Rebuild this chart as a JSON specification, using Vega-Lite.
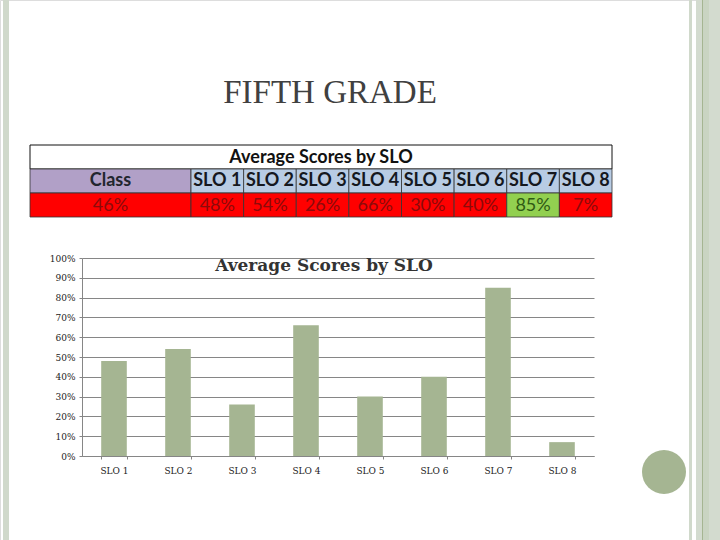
{
  "$schema": "https://vega.github.io/schema/vega-lite/v6.json",
  "width": 720, "height": 540,
  "autosize": {"type": "none"},
  "padding": 0,
  "background": "white",
  "title": {"text": "FIFTH GRADE", "anchor": "middle", "frame": "group", "orient": "top", "dx": -30, "offset": -110, "font": "Liberation Serif", "fontSize": 33, "fontWeight": "normal", "color": "#404040"},
  "datasets": {
    "slo": [
      {"slo": "SLO 1", "score": 0.48},
      {"slo": "SLO 2", "score": 0.54},
      {"slo": "SLO 3", "score": 0.26},
      {"slo": "SLO 4", "score": 0.66},
      {"slo": "SLO 5", "score": 0.30},
      {"slo": "SLO 6", "score": 0.40},
      {"slo": "SLO 7", "score": 0.85},
      {"slo": "SLO 8", "score": 0.07}
    ],
    "class": [{"group": "Class", "score": 0.46}],
    "heading": [{"heading": "Average Scores by SLO"}]
  },
  "resolve": {"scale": {"x": "independent", "y": "independent", "color": "independent"}, "axis": {"x": "independent", "y": "independent"}},
  "layer": [
    {
      "data": {"values": [{"strip": "left"}]},
      "mark": {"type": "rect", "color": "#D0D9CB"},
      "encoding": {
        "x": {"field": "strip", "type": "nominal", "axis": null, "scale": {"type": "band", "range": [3, 9], "padding": 0}},
        "y": {"field": "strip", "type": "nominal", "axis": null, "scale": {"type": "band", "range": [0, 540], "padding": 0}}
      }
    },
    {
      "data": {"values": [{"strip": "right inner"}]},
      "mark": {"type": "rect", "color": "#D0D9CB"},
      "encoding": {
        "x": {"field": "strip", "type": "nominal", "axis": null, "scale": {"type": "band", "range": [689, 692], "padding": 0}},
        "y": {"field": "strip", "type": "nominal", "axis": null, "scale": {"type": "band", "range": [0, 540], "padding": 0}}
      }
    },
    {
      "data": {"values": [{"strip": "right outer"}]},
      "mark": {"type": "rect", "color": "#D3DBCF"},
      "encoding": {
        "x": {"field": "strip", "type": "nominal", "axis": null, "scale": {"type": "band", "range": [696, 720], "padding": 0}},
        "y": {"field": "strip", "type": "nominal", "axis": null, "scale": {"type": "band", "range": [0, 540], "padding": 0}}
      }
    },
    {
      "data": {"values": [{"strip": "right shade"}]},
      "mark": {"type": "rect", "color": "#C9D4C2"},
      "encoding": {
        "x": {"field": "strip", "type": "nominal", "axis": null, "scale": {"type": "band", "range": [703, 709], "padding": 0}},
        "y": {"field": "strip", "type": "nominal", "axis": null, "scale": {"type": "band", "range": [0, 540], "padding": 0}}
      }
    },
    {
      "data": {"values": [{"strip": "right line"}]},
      "mark": {"type": "rect", "color": "#A5B592"},
      "encoding": {
        "x": {"field": "strip", "type": "nominal", "axis": null, "scale": {"type": "band", "range": [702, 703], "padding": 0}},
        "y": {"field": "strip", "type": "nominal", "axis": null, "scale": {"type": "band", "range": [0, 540], "padding": 0}}
      }
    },
    {
      "data": {"values": [{"dot": "dot"}]},
      "mark": {"type": "point", "filled": true, "opacity": 1, "color": "#A5B592", "size": 1936},
      "encoding": {
        "x": {"field": "dot", "type": "nominal", "axis": null, "scale": {"type": "band", "range": [642, 686], "padding": 0}},
        "y": {"field": "dot", "type": "nominal", "axis": null, "scale": {"type": "band", "range": [450, 494], "padding": 0}}
      }
    },
    {
      "data": {"name": "heading"},
      "mark": {"type": "rect", "fill": "white", "stroke": "#111111", "strokeWidth": 1},
      "encoding": {
        "x": {"field": "heading", "type": "nominal", "axis": null, "scale": {"type": "band", "range": [30, 612], "padding": 0}},
        "y": {"datum": "title", "type": "nominal", "axis": null, "scale": {"type": "band", "domain": ["title", "header", "value"], "range": [145, 217], "padding": 0}}
      }
    },
    {
      "data": {"name": "heading"},
      "mark": {"type": "text", "font": "Lato", "fontSize": 18, "fontWeight": "bold", "dy": 1, "color": "#111111"},
      "encoding": {
        "text": {"field": "heading"},
        "x": {"field": "heading", "type": "nominal", "axis": null, "scale": {"type": "band", "range": [30, 612], "padding": 0}},
        "y": {"datum": "title", "type": "nominal", "axis": null, "scale": {"type": "band", "domain": ["title", "header", "value"], "range": [145, 217], "padding": 0}}
      }
    },
    {
      "data": {"name": "class"},
      "mark": {"type": "rect", "fill": "#B1A0C7", "stroke": "#333333", "strokeWidth": 0.8},
      "encoding": {
        "x": {"field": "group", "type": "nominal", "axis": null, "scale": {"type": "band", "range": [30, 191], "padding": 0}},
        "y": {"datum": "header", "type": "nominal", "axis": null, "scale": {"type": "band", "domain": ["title", "header", "value"], "range": [145, 217], "padding": 0}}
      }
    },
    {
      "data": {"name": "class"},
      "mark": {"type": "text", "font": "Lato", "fontSize": 18, "fontWeight": "bold", "color": "#22262E"},
      "encoding": {
        "text": {"field": "group"},
        "x": {"field": "group", "type": "nominal", "axis": null, "scale": {"type": "band", "range": [30, 191], "padding": 0}},
        "y": {"datum": "header", "type": "nominal", "axis": null, "scale": {"type": "band", "domain": ["title", "header", "value"], "range": [145, 217], "padding": 0}}
      }
    },
    {
      "data": {"name": "class"},
      "mark": {"type": "rect", "fill": "#FF0000", "stroke": "#333333", "strokeWidth": 0.8},
      "encoding": {
        "x": {"field": "group", "type": "nominal", "axis": null, "scale": {"type": "band", "range": [30, 191], "padding": 0}},
        "y": {"datum": "value", "type": "nominal", "axis": null, "scale": {"type": "band", "domain": ["title", "header", "value"], "range": [145, 217], "padding": 0}}
      }
    },
    {
      "data": {"name": "class"},
      "mark": {"type": "text", "font": "Lato", "fontSize": 18, "dy": 1, "color": "#8C0A0A"},
      "encoding": {
        "text": {"field": "score", "format": ".0%"},
        "x": {"field": "group", "type": "nominal", "axis": null, "scale": {"type": "band", "range": [30, 191], "padding": 0}},
        "y": {"datum": "value", "type": "nominal", "axis": null, "scale": {"type": "band", "domain": ["title", "header", "value"], "range": [145, 217], "padding": 0}}
      }
    },
    {
      "data": {"name": "slo"},
      "mark": {"type": "rect", "fill": "#B8CCE4", "stroke": "#333333", "strokeWidth": 0.8},
      "encoding": {
        "x": {"field": "slo", "type": "nominal", "axis": null, "scale": {"type": "band", "range": [191, 612], "padding": 0}},
        "y": {"datum": "header", "type": "nominal", "axis": null, "scale": {"type": "band", "domain": ["title", "header", "value"], "range": [145, 217], "padding": 0}}
      }
    },
    {
      "data": {"name": "slo"},
      "mark": {"type": "text", "font": "Lato", "fontSize": 18, "fontWeight": "bold", "color": "#15181E"},
      "encoding": {
        "text": {"field": "slo"},
        "x": {"field": "slo", "type": "nominal", "axis": null, "scale": {"type": "band", "range": [191, 612], "padding": 0}},
        "y": {"datum": "header", "type": "nominal", "axis": null, "scale": {"type": "band", "domain": ["title", "header", "value"], "range": [145, 217], "padding": 0}}
      }
    },
    {
      "data": {"name": "slo"},
      "mark": {"type": "rect", "stroke": "#333333", "strokeWidth": 0.8},
      "encoding": {
        "x": {"field": "slo", "type": "nominal", "axis": null, "scale": {"type": "band", "range": [191, 612], "padding": 0}},
        "y": {"datum": "value", "type": "nominal", "axis": null, "scale": {"type": "band", "domain": ["title", "header", "value"], "range": [145, 217], "padding": 0}},
        "fill": {"condition": {"test": "datum.score >= 0.7", "value": "#92D050"}, "value": "#FF0000"}
      }
    },
    {
      "data": {"name": "slo"},
      "mark": {"type": "text", "font": "Lato", "fontSize": 18, "dy": 1},
      "encoding": {
        "text": {"field": "score", "format": ".0%"},
        "x": {"field": "slo", "type": "nominal", "axis": null, "scale": {"type": "band", "range": [191, 612], "padding": 0}},
        "y": {"datum": "value", "type": "nominal", "axis": null, "scale": {"type": "band", "domain": ["title", "header", "value"], "range": [145, 217], "padding": 0}},
        "color": {"condition": {"test": "datum.score >= 0.7", "value": "#2F5A14"}, "value": "#8C0A0A"}
      }
    },
    {
      "data": {"name": "slo"},
      "mark": {"type": "bar", "color": "#A5B592"},
      "encoding": {
        "x": {
          "field": "slo", "type": "nominal", "title": null,
          "scale": {"range": [82, 594], "paddingInner": 0.6, "paddingOuter": 0.3},
          "axis": {"orient": "bottom", "offset": -84, "labelAngle": 0, "tickBand": "extent", "tickSize": 3, "labelPadding": 7, "labelFont": "DejaVu Serif", "labelFontSize": 9, "labelColor": "#222222", "domainColor": "#868686", "tickColor": "#868686", "grid": false}
        },
        "y": {
          "field": "score", "type": "quantitative", "title": null,
          "scale": {"domain": [0, 1], "range": [456, 258]},
          "axis": {"orient": "left", "offset": -82, "values": [0, 0.1, 0.2, 0.3, 0.4, 0.5, 0.6, 0.7, 0.8, 0.9, 1], "format": ".0%", "tickSize": 3, "labelPadding": 4, "labelFont": "DejaVu Serif", "labelFontSize": 9, "labelColor": "#222222", "domainColor": "#868686", "tickColor": "#868686", "grid": true, "gridColor": "#868686", "gridWidth": 1}
        }
      }
    },
    {
      "data": {"name": "heading"},
      "mark": {"type": "text", "font": "DejaVu Serif", "fontSize": 17, "fontWeight": "bold", "dy": 1, "color": "#333333"},
      "encoding": {
        "text": {"field": "heading"},
        "x": {"field": "heading", "type": "nominal", "axis": null, "scale": {"type": "band", "range": [216, 432], "padding": 0}},
        "y": {"field": "heading", "type": "nominal", "axis": null, "scale": {"type": "band", "range": [255, 275], "padding": 0}}
      }
    }
  ]
}
